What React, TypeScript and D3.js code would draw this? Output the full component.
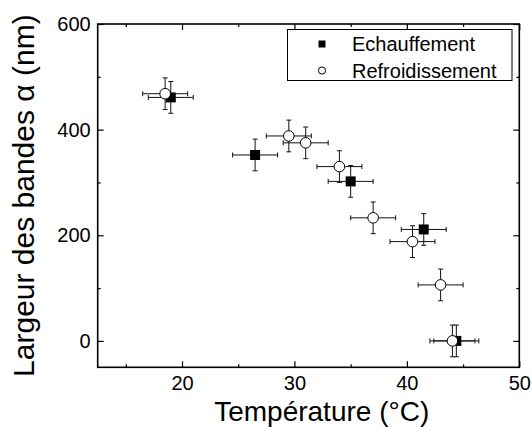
import React, { useEffect, useRef } from "react";
import * as d3 from "d3";

// Echauffement (filled squares)
const heatTemp = [19, 26.5, 35, 41.5, 44.4];
const heatWidth = [461, 352, 302, 211, 0];
const heatTempErr = [2, 2, 2, 2, 2];
const heatWidthErr = [30, 30, 30, 30, 30];

// Refroidissement (open circles)
const coolTemp = [18.5, 29.5, 31, 34, 37, 40.5, 43, 44.05];
const coolWidth = [468, 388, 375, 330, 233, 188, 106, 0];
const coolTempErr = [2, 2, 2, 2, 2, 2, 2, 2];
const coolWidthErr = [30, 30, 30, 30, 30, 30, 30, 30];

const xMajor = [20, 30, 40, 50];
const xMinor = [15, 25, 35, 45];
const yMajor = [0, 200, 400, 600];
const yMinor = [100, 300, 500];

const legendLabels = ["Echauffement", "Refroidissement"];

const W = 532;
const H = 427;
const margin = { top: 24, right: 12.7, bottom: 59.7, left: 97.7 };
const FONT = "'Liberation Sans', Arial, sans-serif";

export default function App() {
  const ref = useRef<SVGSVGElement>(null);

  useEffect(() => {
    const svg = d3.select(ref.current);
    svg.selectAll("*").remove();

    const x = d3.scaleLinear().domain([12.5, 50]).range([margin.left, W - margin.right]);
    const y = d3.scaleLinear().domain([-50, 600]).range([H - margin.bottom, margin.top]);
    const x0 = margin.left, x1 = W - margin.right;
    const y0 = H - margin.bottom, y1 = margin.top;

    const styleAxis = (g: any) => {
      g.select(".domain").remove();
      g.selectAll("line").attr("stroke", "#000").attr("stroke-width", 1.2);
      g.selectAll("text").attr("font-family", FONT).attr("font-size", 20).attr("fill", "#000");
    };

    // bottom
    svg.append("g").attr("transform", `translate(0,${y0})`)
      .call(d3.axisBottom(x).tickValues(xMajor).tickFormat(d3.format("d")).tickSize(-6).tickPadding(9))
      .call(styleAxis);
    svg.append("g").attr("transform", `translate(0,${y0})`)
      .call(d3.axisBottom(x).tickValues(xMinor).tickFormat(() => "").tickSize(-3))
      .call(styleAxis);
    // top
    svg.append("g").attr("transform", `translate(0,${y1})`)
      .call(d3.axisTop(x).tickValues(xMajor).tickFormat(() => "").tickSize(-6))
      .call(styleAxis);
    svg.append("g").attr("transform", `translate(0,${y1})`)
      .call(d3.axisTop(x).tickValues(xMinor).tickFormat(() => "").tickSize(-3))
      .call(styleAxis);
    // left
    svg.append("g").attr("transform", `translate(${x0},0)`)
      .call(d3.axisLeft(y).tickValues(yMajor).tickFormat(d3.format("d")).tickSize(-6).tickPadding(7))
      .call(styleAxis);
    svg.append("g").attr("transform", `translate(${x0},0)`)
      .call(d3.axisLeft(y).tickValues(yMinor).tickFormat(() => "").tickSize(-3))
      .call(styleAxis);
    // right
    svg.append("g").attr("transform", `translate(${x1},0)`)
      .call(d3.axisRight(y).tickValues(yMajor).tickFormat(() => "").tickSize(-6))
      .call(styleAxis);
    svg.append("g").attr("transform", `translate(${x1},0)`)
      .call(d3.axisRight(y).tickValues(yMinor).tickFormat(() => "").tickSize(-3))
      .call(styleAxis);

    // frame
    svg.append("rect")
      .attr("x", x0).attr("y", y1).attr("width", x1 - x0).attr("height", y0 - y1)
      .attr("fill", "none").attr("stroke", "#000").attr("stroke-width", 1.6);

    const heat = heatTemp.map((t, i) => ({ t, w: heatWidth[i], et: heatTempErr[i], ew: heatWidthErr[i] }));
    const cool = coolTemp.map((t, i) => ({ t, w: coolWidth[i], et: coolTempErr[i], ew: coolWidthErr[i] }));

    const drawErr = (data: any[]) => {
      const g = svg.append("g").attr("stroke", "#111").attr("stroke-width", 1).attr("fill", "none");
      data.forEach((d) => {
        const cx = x(d.t), cy = y(d.w);
        const xl = x(d.t - d.et), xr = x(d.t + d.et);
        const yt = y(d.w + d.ew), yb = y(d.w - d.ew);
        g.append("line").attr("x1", xl).attr("x2", xr).attr("y1", cy).attr("y2", cy);
        g.append("line").attr("x1", xl).attr("x2", xl).attr("y1", cy - 2.5).attr("y2", cy + 2.5);
        g.append("line").attr("x1", xr).attr("x2", xr).attr("y1", cy - 2.5).attr("y2", cy + 2.5);
        g.append("line").attr("x1", cx).attr("x2", cx).attr("y1", yt).attr("y2", yb);
        g.append("line").attr("x1", cx - 2.5).attr("x2", cx + 2.5).attr("y1", yt).attr("y2", yt);
        g.append("line").attr("x1", cx - 2.5).attr("x2", cx + 2.5).attr("y1", yb).attr("y2", yb);
      });
    };

    drawErr(heat);
    svg.append("g").selectAll("rect").data(heat).join("rect")
      .attr("x", (d) => x(d.t) - 5).attr("y", (d) => y(d.w) - 5)
      .attr("width", 10).attr("height", 10).attr("fill", "#000");

    drawErr(cool);
    svg.append("g").selectAll("circle").data(cool).join("circle")
      .attr("cx", (d) => x(d.t)).attr("cy", (d) => y(d.w)).attr("r", 5.3)
      .attr("fill", "#fff").attr("stroke", "#000").attr("stroke-width", 1);

    // legend
    const lg = svg.append("g");
    lg.append("rect").attr("x", 287.5).attr("y", 29.5).attr("width", 224.5).attr("height", 51)
      .attr("fill", "#fff").attr("stroke", "#000").attr("stroke-width", 1);
    lg.append("rect").attr("x", 318.5).attr("y", 40.5).attr("width", 7).attr("height", 7).attr("fill", "#000");
    lg.append("circle").attr("cx", 322).attr("cy", 70.5).attr("r", 3.6)
      .attr("fill", "#fff").attr("stroke", "#000").attr("stroke-width", 1);
    legendLabels.forEach((l, i) => {
      lg.append("text").attr("x", 352).attr("y", 51 + i * 26.5)
        .attr("font-family", FONT).attr("font-size", 20).attr("fill", "#000").text(l);
    });

    // axis titles
    svg.append("text").attr("x", 321.7).attr("y", 421)
      .attr("text-anchor", "middle").attr("font-family", FONT).attr("font-size", 28).attr("fill", "#000")
      .text("Température (°C)");
    svg.append("text").attr("transform", `translate(34,${(y0 + y1) / 2}) rotate(-90)`)
      .attr("text-anchor", "middle").attr("font-family", FONT).attr("font-size", 30).attr("fill", "#000")
      .text("Largeur des bandes α (nm)");
  }, []);

  return (
    <svg ref={ref} width={W} height={H}
      style={{ position: "absolute", left: 0, top: 0, background: "#fff" }} />
  );
}
